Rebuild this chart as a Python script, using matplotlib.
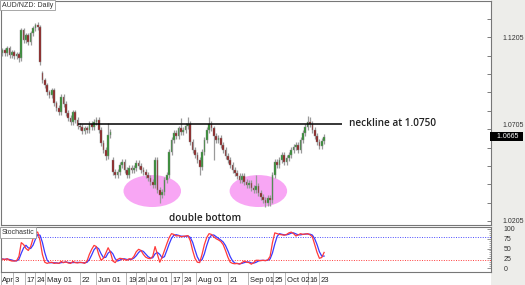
import numpy as np
import matplotlib
matplotlib.use("Agg")
import matplotlib.pyplot as plt
from matplotlib.patches import Ellipse, Rectangle
import matplotlib.transforms as mtrans

plt.rcParams["font.family"] = ["Liberation Sans", "DejaVu Sans"]

# daily closes, AUD/NZD
closes = [1.1134, 1.1118, 1.1145, 1.1107, 1.1123, 1.1102, 1.1113, 1.1091,
          1.1243, 1.1189, 1.1216, 1.1178, 1.1227, 1.1254, 1.1270, 1.1259,
          1.1069, 1.0971, 1.0944, 1.0906, 1.0890, 1.0917, 1.0846, 1.0819,
          1.0797, 1.0879, 1.0841, 1.0792, 1.0765, 1.0743, 1.0797, 1.0754,
          1.0721, 1.0716, 1.0694, 1.0710, 1.0700, 1.0732, 1.0716, 1.0743,
          1.0754, 1.0700, 1.0629, 1.0591, 1.0558, 1.0672, 1.0689, 1.0471,
          1.0455, 1.0471, 1.0509, 1.0526, 1.0482, 1.0455, 1.0493, 1.0482,
          1.0493, 1.0520, 1.0504, 1.0482, 1.0471, 1.0455, 1.0439, 1.0417,
          1.0401, 1.0537, 1.0374, 1.0346, 1.0363, 1.0428, 1.0455, 1.0580,
          1.0645, 1.0683, 1.0667, 1.0710, 1.0689, 1.0700, 1.0721, 1.0732,
          1.0634, 1.0591, 1.0564, 1.0537, 1.0498, 1.0580, 1.0645, 1.0700,
          1.0732, 1.0710, 1.0667, 1.0645, 1.0656, 1.0618, 1.0591, 1.0558,
          1.0537, 1.0509, 1.0482, 1.0466, 1.0450, 1.0428, 1.0450, 1.0417,
          1.0401, 1.0412, 1.0384, 1.0374, 1.0395, 1.0357, 1.0335, 1.0319,
          1.0303, 1.0330, 1.0319, 1.0455, 1.0526, 1.0509, 1.0537, 1.0564,
          1.0526, 1.0547, 1.0564, 1.0591, 1.0607, 1.0618, 1.0591, 1.0645,
          1.0683, 1.0716, 1.0743, 1.0732, 1.0700, 1.0667, 1.0634, 1.0613,
          1.0640, 1.0665]
first_open = 1.1120
gap_opens = {17: 1.1009, 47: 1.0537}
long_highs = {15: 1.1287, 40: 1.0770, 45: 1.0738, 65: 1.0553, 76: 1.0765,
              79: 1.0770, 88: 1.0770, 108: 1.0455, 130: 1.0776, 131: 1.0770}
long_lows = {7: 1.1069, 44: 1.0537, 67: 1.0303, 84: 1.0455, 90: 1.0537,
             112: 1.0281, 114: 1.0287}

# stochastic %K
stoch_k = [23, 22, 24, 20, 18, 18, 19, 30, 65, 60, 50, 45, 55, 75, 90, 92,
           70, 35, 15, 12, 14, 15, 12, 13, 12, 17, 14, 16, 13, 12, 17, 14,
           13, 15, 14, 12, 18, 35, 48, 58, 55, 35, 20, 25, 38, 52, 40, 18,
           14, 22, 25, 24, 22, 20, 24, 23, 30, 42, 48, 45, 35, 28, 25, 24,
           30, 55, 35, 15, 28, 45, 62, 78, 88, 86, 82, 83, 80, 81, 82, 83,
           70, 45, 25, 15, 14, 35, 60, 78, 88, 86, 80, 75, 72, 68, 60, 45,
           28, 15, 12, 11, 12, 10, 14, 18, 15, 14, 10, 14, 20, 20, 19, 20,
           19, 21, 30, 65, 90, 88, 86, 85, 84, 86, 90, 92, 88, 82, 85, 88,
           86, 87, 88, 85, 80, 60, 40, 25, 27, 40]

date_labels = ["Apr", "3", "17", "24", "May 01", "22", "Jun 01", "19", "26",
               "Jul 01", "17", "24", "Aug 01", "21", "Sep 01", "25", "Oct 02",
               "16", "23"]
date_pos = [-0.8, 4.3, 9.4, 14.0, 18.3, 33.2, 40.0, 52.8, 57.0, 61.3, 71.9,
            76.6, 82.6, 96.2, 104.7, 115.3, 120.4, 130.2, 134.9]

neckline = 1.0735
last_price = 1.0665

n = len(closes)
opens = [first_open] + closes[:-1]
for i, v in gap_opens.items():
    opens[i] = v
opens = np.array(opens)
closes = np.array(closes)
highs = np.maximum(opens, closes) + 0.0015
lows = np.minimum(opens, closes) - 0.0015
for i, v in long_highs.items():
    highs[i] = v
for i, v in long_lows.items():
    lows[i] = v
x = np.arange(n)

k = np.array(stoch_k, float)
d = np.convolve(k, np.ones(3) / 3, mode="full")[:n]
d[0], d[1] = k[0], (k[0] + k[1]) / 2

W, H = 525, 285
fig = plt.figure(figsize=(W / 100, H / 100), dpi=100)
fig.patch.set_facecolor("white")
fig.patches.append(Rectangle((491 / W, 0), 1 - 491 / W, 1, transform=fig.transFigure,
                             facecolor="#ededea", edgecolor="none", zorder=-5))

ax = fig.add_axes([0.5 / W, 1 - 225 / H, 490.5 / W, 224.5 / H])
ax2 = fig.add_axes([0.5 / W, 1 - 272 / H, 490.5 / W, 45 / H], sharex=ax)

xmin, xmax = -0.85, 208.1
ax.set_xlim(xmin, xmax)
ax.set_ylim(1.0183, 1.1406)

# pink circles behind the bottoms
for cx in (63.8, 109.0):
    ax.add_patch(Ellipse((cx, 1.0368), 24.5, 0.0174, facecolor="#f8a6f4",
                         edgecolor="none", zorder=1))

# candles
ax.vlines(x, lows, highs, color="#9a9a9a", lw=0.9, zorder=2)
up = closes >= opens
ax.bar(x[up], (closes - opens)[up], bottom=opens[up], width=0.7,
       color="#2f8f2f", edgecolor="#8a8a8a", linewidth=0.3, zorder=3)
ax.bar(x[~up], (opens - closes)[~up], bottom=closes[~up], width=0.7,
       color="#8e1e1e", edgecolor="#8a8a8a", linewidth=0.3, zorder=3)

ax.hlines(neckline, 32, 144.7, color="black", lw=1.1, zorder=4)
ax.text(147.7, neckline, "neckline at 1.0750", fontsize=7.2, family="Open Sans",
        weight="semibold", color="#222222", va="center", ha="left")
ax.text(86.4, 1.0220, "double bottom", fontsize=7.2, family="Open Sans",
        weight="semibold", color="#222222", va="center", ha="center")

ax.text(0.003, 0.995, "AUD/NZD: Daily", transform=ax.transAxes, fontsize=5,
        va="top", ha="left", color="#333333",
        bbox=dict(boxstyle="square,pad=0.25", facecolor="white", edgecolor="#999999", lw=0.6))

ax.yaxis.tick_right()
yt = np.arange(1.0205, 1.1406, 0.01)
ax.set_yticks(yt)
ax.set_yticklabels([f"{v:.4f}" if round((v - 1.0205) / 0.05, 6) % 1 == 0 else "" for v in yt])
ax.tick_params(axis="y", direction="in", length=3, width=0.6, color="#666666",
               labelsize=5, pad=8, labelcolor="#333333")
for lab in ax.get_yticklabels():
    if lab.get_text() == "1.0705":
        lab.set_va("bottom")
ax.tick_params(axis="x", bottom=False, labelbottom=False)
for s in ax.spines.values():
    s.set_color("#777777")
    s.set_linewidth(0.8)

ax.text(1.0, last_price, "   1.0665  ", transform=mtrans.blended_transform_factory(ax.transAxes, ax.transData),
        fontsize=5, color="white", va="center", ha="left", zorder=10, clip_on=False,
        bbox=dict(boxstyle="square,pad=0.08", facecolor="black", edgecolor="none"))

# stochastic panel
ax2.set_ylim(-10, 105)
ax2.axhline(80, color="#4a4aff", lw=0.7, ls=(0, (1, 1.5)))
ax2.axhline(20, color="#ff3b3b", lw=0.7, ls=(0, (1, 1.5)))
ax2.plot(x, d, color="#3a3aff", lw=0.9)
ax2.plot(x, k, color="#ff3a3a", lw=0.9)
ax2.text(0.003, 0.96, "Stochastic", transform=ax2.transAxes, fontsize=5,
         va="top", ha="left", color="#333333",
         bbox=dict(boxstyle="square,pad=0.25", facecolor="white", edgecolor="#999999", lw=0.6))
ax2.yaxis.tick_right()
ax2.set_yticks([0, 25, 50, 75, 100])
ax2.set_yticks(np.arange(0, 101, 5), minor=True)
ax2.tick_params(axis="y", which="major", direction="in", length=3, width=0.5,
                color="#666666", labelsize=5, pad=9, labelcolor="#333333")
ax2.tick_params(axis="y", which="minor", direction="in", length=1.5, width=0.4, color="#666666")
for s in ax2.spines.values():
    s.set_color("#777777")
    s.set_linewidth(0.8)

ax2.set_xticks(date_pos)
ax2.set_xticklabels([""] * len(date_pos))
ax2.tick_params(axis="x", direction="out", length=9, width=0.5, color="#999999")
tr = mtrans.blended_transform_factory(ax2.transData, ax2.transAxes)
for p, lab in zip(date_pos, date_labels):
    ax2.text(p + 0.7, -0.1, lab, transform=tr, fontsize=5.5, va="top", ha="left",
             color="#222222")

fig.savefig("out.png", dpi=100, facecolor="white")
